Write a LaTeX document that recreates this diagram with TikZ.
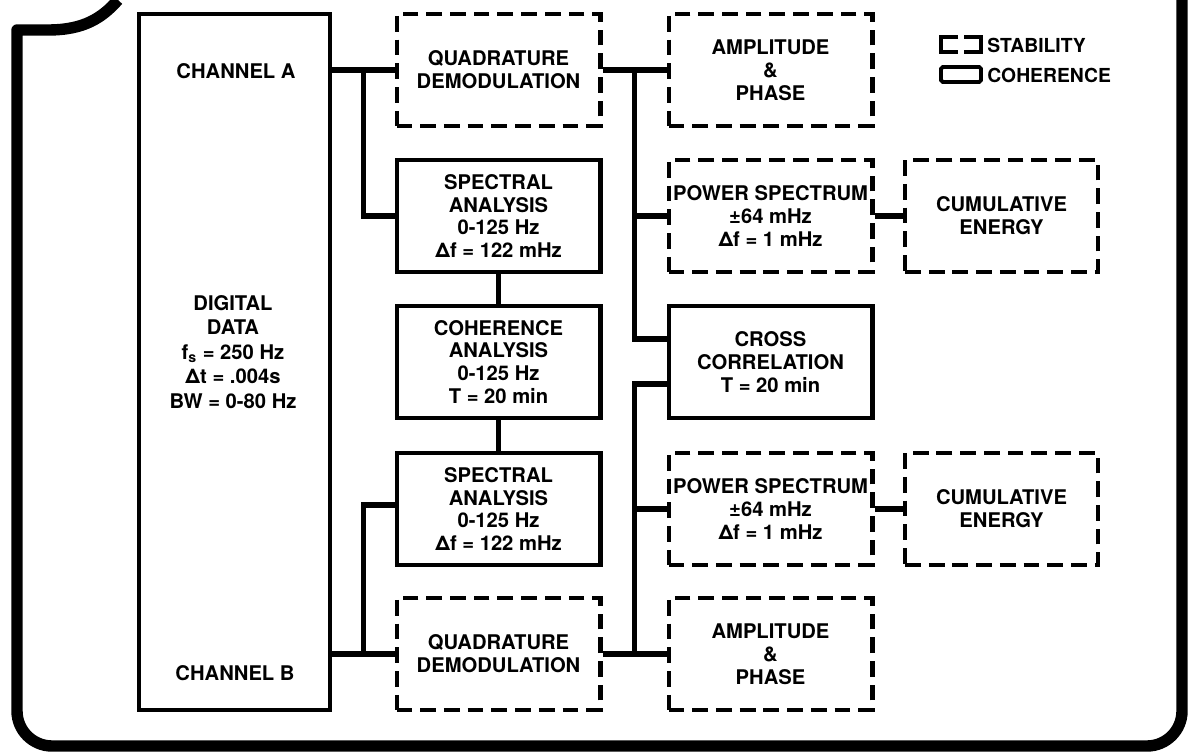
\documentclass[tikz,border=0pt]{standalone}
\usepackage{fontspec}
\setmainfont{TeX Gyre Heros}
\usetikzlibrary{calc}

\tikzset{
  lbl/.style={font=\bfseries\fontsize{11.5}{13}\selectfont, align=center, inner sep=0pt},
  solidbox/.style={lbl, draw, line width=2.3pt, minimum width=4.08cm, minimum height=2.24cm},
  dashbox/.style={solidbox, dash pattern=on 9pt off 4.5pt},
  wire/.style={line width=3pt},
  frame/.style={line width=6.5pt, line join=round}
}

\begin{document}
\begin{tikzpicture}[x=0.02cm, y=-0.02cm]
  \useasboundingbox (0,0) rectangle (1196,753);
  % outer frame
  \draw[frame] (118,0) .. controls (102,18) and (84,30) .. (48,30) -- (17,30)
        [rounded corners=0.7cm] -- (17,746) -- (1182,746) -- (1182,0);
  % digital data
  \node[solidbox, minimum width=3.82cm, minimum height=13.92cm] (data) at (234.5,362) {};
  \node[lbl] (chA) at (236,71) {CHANNEL A};
  \node[lbl] (chB) at (235,673) {CHANNEL B};
  \node[lbl] (dig) at (233,352) {DIGITAL\\[1pt]DATA\\[1pt]f\textsubscript{s} = 250 Hz\\[1pt]Δt = .004s\\[1pt]BW = 0-80 Hz};
  % first column
  \node[dashbox] (qdA) at (498.5,70) {QUADRATURE\\DEMODULATION};
  \node[solidbox] (specA) at (498.5,216) {SPECTRAL\\ANALYSIS\\0-125 Hz\\Δf = 122 mHz};
  \node[solidbox] (coh) at (498.5,362) {COHERENCE\\ANALYSIS\\0-125 Hz\\T = 20 min};
  \node[solidbox] (specB) at (498.5,509) {SPECTRAL\\ANALYSIS\\0-125 Hz\\Δf = 122 mHz};
  \node[dashbox] (qdB) at (498.5,654) {QUADRATURE\\DEMODULATION};
  % second column
  \node[dashbox] (ampA) at (770.5,70) {AMPLITUDE\\\&\\PHASE};
  \node[dashbox] (psA) at (770.5,216) {POWER SPECTRUM\\±64 mHz\\Δf = 1 mHz};
  \node[solidbox] (xcorr) at (770.5,362) {CROSS\\CORRELATION\\T = 20 min};
  \node[dashbox] (psB) at (770.5,509) {POWER SPECTRUM\\±64 mHz\\Δf = 1 mHz};
  \node[dashbox] (ampB) at (770.5,654) {AMPLITUDE\\\&\\PHASE};
  % third column
  \node[dashbox, minimum width=3.86cm] (cumA) at (1001.5,216) {CUMULATIVE\\ENERGY};
  \node[dashbox, minimum width=3.86cm] (cumB) at (1001.5,509) {CUMULATIVE\\ENERGY};
  % legend
  \draw[line width=2.2pt] (958,37) -- (941,37) -- (941,52) -- (958,52);
  \draw[line width=2.2pt] (964,37) -- (981,37) -- (981,52) -- (964,52);
  \draw[line width=2.2pt, rounded corners=1pt] (941,67) rectangle (981,82);
  \node[lbl, anchor=west, font=\bfseries\fontsize{11}{13}\selectfont] (stab) at (987,45) {STABILITY};
  \node[lbl, anchor=west, font=\bfseries\fontsize{11}{13}\selectfont] (cohleg) at (987,75) {COHERENCE};
  % channel wires
  \coordinate (lA) at ($(qdA.west -| data.east)!0.5!(qdA.west)$);
  \coordinate (lB) at ($(qdB.west -| data.east)!0.5!(qdB.west)$);
  \draw[wire] (qdA.west -| data.east) -- (qdA.west);
  \draw[wire] (lA) |- (specA.west);
  \draw[wire] (qdB.west -| data.east) -- (qdB.west);
  \draw[wire] (lB) |- ([yshift=0.08cm]specB.west);
  \draw[wire] (specA.south) -- (coh.north);
  \draw[wire] (coh.south) -- (specB.north);
  % output wires
  \coordinate (rA) at ($(qdA.east)!0.5!(ampA.west)$);
  \coordinate (rB) at ($(qdB.east)!0.5!(ampB.west)$);
  \draw[wire] (qdA.east) -- (ampA.west);
  \draw[wire] (rA) |- ([yshift=0.46cm]xcorr.west);
  \draw[wire] (psA.west -| rA) -- (psA.west);
  \draw[wire] (qdB.east) -- (ampB.west);
  \draw[wire] (rB) |- ([yshift=-0.44cm]xcorr.west);
  \draw[wire] (psB.west -| rB) -- (psB.west);
  \draw[wire] (psA.east) -- (cumA.west);
  \draw[wire] (psB.east) -- (cumB.west);
\end{tikzpicture}
\end{document}
